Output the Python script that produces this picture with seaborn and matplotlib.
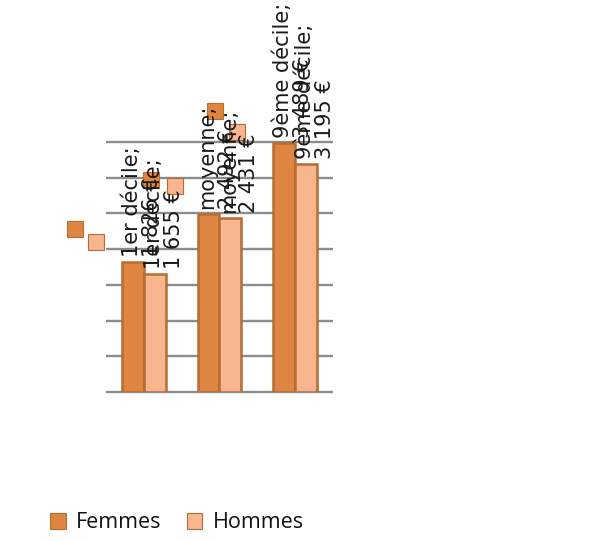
import matplotlib
matplotlib.use("Agg")
import matplotlib.pyplot as plt
import matplotlib.transforms as mtrans
from matplotlib.patches import Patch
import pandas as pd
import seaborn as sns

# Salaires mensuels nets par décile et par sexe
categories = ["1er décile", "moyenne", "9ème décile"]
femmes = [1826, 2492, 3489]
hommes = [1655, 2431, 3195]
series = ["Femmes", "Hommes"]
grid_values = [0, 500, 1000, 1500, 2000, 2500, 3000, 3500]

colors = {"Femmes": "#DE8641", "Hommes": "#F8B58F"}
edge = "#B56D30"
text_color = "#1a1a1a"

df = pd.DataFrame({
    "categorie": categories * 2,
    "salaire": femmes + hommes,
    "sexe": ["Femmes"] * len(categories) + ["Hommes"] * len(categories),
})

sns.set_theme(style="white")
plt.rcParams["font.family"] = ["DejaVu Sans"]

W, H = 603, 541
fig = plt.figure(figsize=(W / 100, H / 100), dpi=100)
fig.patch.set_facecolor("white")
ax = fig.add_axes([106 / W, 1 - 392 / H, 227 / W, 250 / H])
ax.set_facecolor("none")

ax.hlines(grid_values, -0.5, 2.5, colors="#8C8C8C", linewidth=1.7,
          clip_on=False, zorder=0)

sns.barplot(data=df, x="categorie", y="salaire", hue="sexe",
            palette=colors, hue_order=series, width=0.58, saturation=1,
            edgecolor=edge, linewidth=1.8, legend=False, ax=ax, zorder=2)

ax.set_xlim(-0.5, 2.5)
ax.set_ylim(0, 3500)
ax.set_xticks([])
ax.set_yticks([])
ax.set_xlabel("")
ax.set_ylabel("")
for s in ax.spines.values():
    s.set_visible(False)

def fmt(v):
    return f"{v:,}".replace(",", " ") + " €"

half = 0.58 / 4
# data labels, rotated, sitting just above each bar
for si, (name, vals) in enumerate(zip(series, [femmes, hommes])):
    for ci, (cat, v) in enumerate(zip(categories, vals)):
        x = ci + (-half if si == 0 else half)
        tr = mtrans.offset_copy(ax.transData, fig=fig, x=9, y=5, units="dots")
        ax.text(x, v, f"{cat};\n{fmt(v)}", transform=tr, rotation=90,
                ha="center", va="bottom", multialignment="left",
                fontsize=15, linespacing=1.0, color=text_color,
                zorder=4, clip_on=False)

# legend keys attached to the data labels
key_offsets = [
    ("Femmes", 0, -57.5, 32.5), ("Hommes", 0, -58.5, 31.5),
    ("Femmes", 0, 18.5, 82), ("Hommes", 0, 20, 87.5),
    ("Femmes", 1, 6, 103.5), ("Hommes", 1, 6.5, 86.5),
]
for name, ci, dx, dy in key_offsets:
    vals = femmes if name == "Femmes" else hommes
    x = ci + (-half if name == "Femmes" else half)
    tr = mtrans.offset_copy(ax.transData, fig=fig, x=dx, y=dy, units="dots")
    ax.plot([x], [vals[ci]], marker="s", markersize=11, linestyle="none",
            markerfacecolor=colors[name], markeredgecolor=edge,
            markeredgewidth=0.8, transform=tr, clip_on=False, zorder=3)

handles = [Patch(facecolor=colors[n], edgecolor=edge, linewidth=0.8, label=n)
           for n in series]
leg = fig.legend(handles=handles, loc="center",
                 bbox_to_anchor=(177 / W, 1 - 523 / H),
                 ncol=2, frameon=False, handlelength=0.7, handleheight=0.7,
                 handletextpad=0.5, columnspacing=1.15,
                 prop={"family": "Open Sans", "size": 15.5})
for t in leg.get_texts():
    t.set_color("#111111")

fig.savefig("out.png", dpi=100, facecolor="white")
